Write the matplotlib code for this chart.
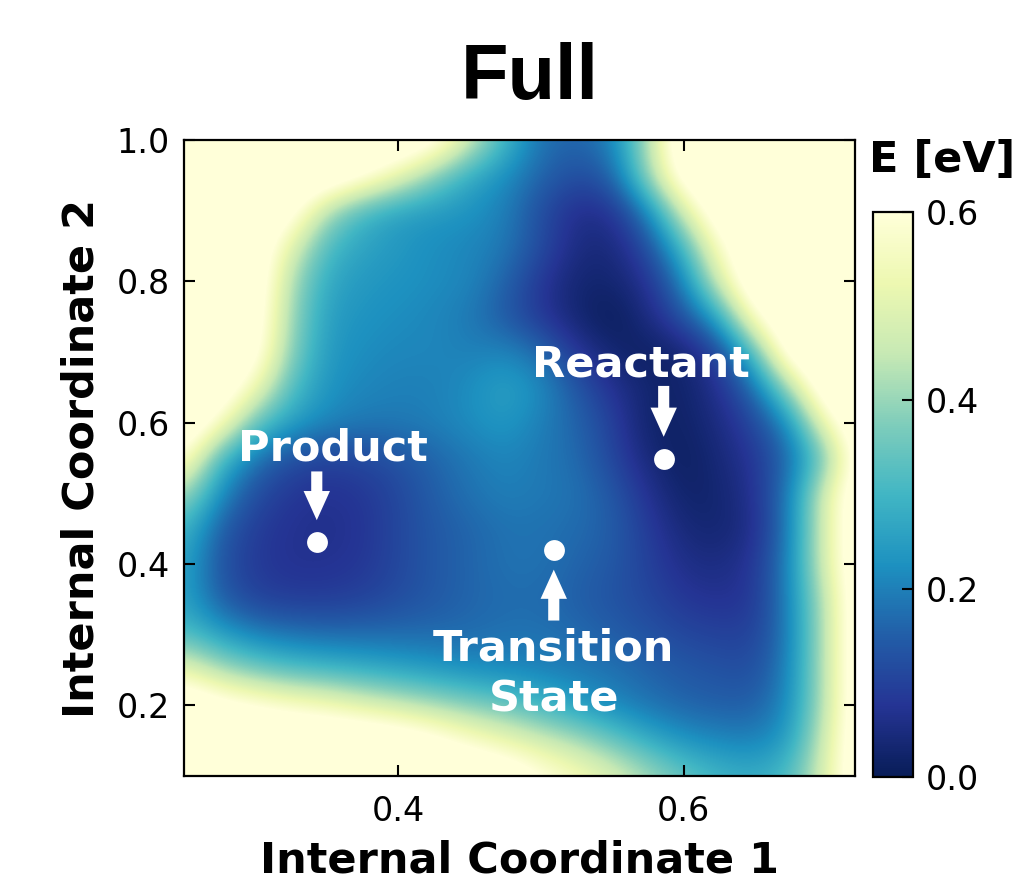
import numpy as np
import matplotlib
matplotlib.use("Agg")
import matplotlib.pyplot as plt

# Grid nodes of the potential energy surface
coord1 = [0.250, 0.275, 0.300, 0.325, 0.350, 0.375, 0.400, 0.425, 0.450, 0.475,
          0.500, 0.525, 0.550, 0.575, 0.600, 0.625, 0.650, 0.675, 0.700, 0.725]
coord2 = [1.00, 0.95, 0.90, 0.85, 0.80, 0.75, 0.70, 0.65, 0.60, 0.55,
          0.50, 0.45, 0.40, 0.35, 0.30, 0.25, 0.20, 0.15, 0.10]

# Energy [eV] on the grid, one row per coord2 value (top row first)
energy = [
    [.72, .72, .72, .72, .72, .72, .72, .66, .48, .30, .18, .16, .20, .42, .72, .72, .72, .72, .72, .72],
    [.72, .72, .72, .72, .72, .64, .52, .38, .27, .22, .16, .12, .15, .40, .68, .72, .72, .72, .72, .72],
    [.72, .72, .72, .66, .42, .30, .25, .24, .23, .20, .12, .06, .07, .20, .48, .70, .72, .72, .72, .72],
    [.72, .72, .70, .50, .31, .26, .24, .22, .21, .19, .12, .05, .04, .12, .30, .58, .72, .72, .72, .72],
    [.72, .72, .70, .42, .27, .24, .23, .22, .21, .16, .08, .03, .03, .07, .20, .48, .72, .72, .72, .72],
    [.72, .72, .68, .40, .25, .23, .22, .21, .19, .14, .08, .03, .00, .05, .13, .26, .60, .72, .72, .72],
    [.72, .72, .66, .38, .24, .22, .21, .21, .20, .21, .17, .08, .03, .01, .03, .10, .32, .70, .72, .72],
    [.72, .70, .54, .32, .23, .21, .20, .20, .22, .26, .22, .14, .07, .03, .02, .07, .17, .42, .72, .72],
    [.72, .58, .34, .25, .21, .19, .19, .20, .22, .24, .20, .16, .10, .02, .02, .05, .11, .22, .55, .72],
    [.61, .30, .18, .12, .10, .11, .13, .16, .19, .21, .19, .17, .11, .04, .01, .04, .08, .17, .36, .70],
    [.42, .22, .12, .08, .07, .08, .11, .15, .18, .20, .19, .18, .14, .07, .02, .03, .07, .20, .50, .72],
    [.30, .15, .09, .07, .065, .075, .11, .14, .16, .18, .18, .17, .15, .09, .04, .03, .06, .20, .50, .72],
    [.27, .13, .085, .07, .07, .08, .11, .14, .16, .18, .18, .16, .14, .10, .06, .05, .08, .21, .50, .72],
    [.26, .15, .10, .09, .09, .10, .12, .14, .16, .17, .17, .15, .13, .11, .08, .07, .08, .21, .45, .72],
    [.32, .25, .20, .18, .17, .17, .17, .17, .17, .18, .18, .17, .15, .13, .11, .10, .10, .20, .45, .72],
    [.52, .42, .36, .32, .30, .28, .26, .24, .22, .21, .20, .19, .18, .16, .14, .13, .12, .21, .45, .72],
    [.72, .66, .62, .58, .55, .50, .46, .42, .38, .35, .30, .25, .21, .18, .16, .15, .15, .22, .45, .72],
    [.72, .72, .72, .72, .72, .72, .70, .65, .58, .52, .47, .42, .35, .28, .23, .21, .20, .25, .48, .72],
    [.72, .72, .72, .72, .72, .72, .72, .72, .72, .70, .62, .56, .50, .42, .35, .30, .28, .32, .50, .72],
]

# Stationary points on the surface
state_names = ["Product", "Reactant", "Transition State"]
state_c1 = [0.343, 0.586, 0.509]
state_c2 = [0.431, 0.549, 0.420]

x_ticks = [0.4, 0.6]
y_ticks = [0.2, 0.4, 0.6, 0.8, 1.0]
cbar_ticks = [0.0, 0.2, 0.4, 0.6]

W, H = 1019, 882
fig = plt.figure(figsize=(W / 100, H / 100), dpi=100)
ax = fig.add_axes([184 / W, 1 - 776 / H, (855 - 184) / W, (776 - 140) / H])
cax = fig.add_axes([873 / W, 1 - 777 / H, 40 / W, (777 - 212) / H])

E = np.array(energy)
c1 = np.array(coord1)
c2 = np.array(coord2)
dx = c1[1] - c1[0]
dy = c2[0] - c2[1]
extent = [c1[0] - dx / 2, c1[-1] + dx / 2, c2[-1] - dy / 2, c2[0] + dy / 2]

cmap = plt.get_cmap("YlGnBu_r").copy()
im = ax.imshow(E, extent=extent, origin="upper", cmap=cmap, vmin=0.0, vmax=0.6,
               interpolation="bicubic", aspect="auto")
ax.set_xlim(0.25, 0.72)
ax.set_ylim(0.1, 1.0)

ax.set_xticks(x_ticks)
ax.set_yticks(y_ticks)
ax.tick_params(direction="in", top=True, right=True, length=8, width=1.5,
               labelsize=24)
ax.tick_params(axis="x", pad=14)
ax.tick_params(axis="y", pad=10)
for sp in ax.spines.values():
    sp.set_linewidth(1.6)

ax.set_xlabel("Internal Coordinate 1", fontsize=31, fontweight="bold", labelpad=8)
ax.set_ylabel("Internal Coordinate 2", fontsize=31, fontweight="bold", labelpad=10)

# Markers for the stationary points
ax.plot(state_c1, state_c2, "o", color="white", ms=15, mec="none", zorder=5)

arrow_kw = dict(facecolor="white", edgecolor="white", linewidth=0,
                width=8, headwidth=19, headlength=21, shrink=0.0)
text_kw = dict(color="white", fontsize=31, fontweight="bold", ha="center",
               va="baseline", zorder=6)

# Product
ax.annotate("", xy=(state_c1[0], 0.462), xytext=(state_c1[0], 0.531), arrowprops=arrow_kw)
ax.text(0.354, 0.546, state_names[0], **text_kw)
# Reactant
ax.annotate("", xy=(state_c1[1], 0.580), xytext=(state_c1[1], 0.652), arrowprops=arrow_kw)
ax.text(0.570, 0.666, state_names[1], **text_kw)
# Transition state
ax.annotate("", xy=(state_c1[2], 0.392), xytext=(state_c1[2], 0.320), arrowprops=arrow_kw)
ts_top, ts_bottom = state_names[2].split(" ")
ax.text(state_c1[2], 0.263, ts_top, **text_kw)
ax.text(state_c1[2], 0.191, ts_bottom, **text_kw)

cb = fig.colorbar(im, cax=cax, ticks=cbar_ticks)
cb.ax.tick_params(direction="in", length=8, width=1.5, labelsize=24, pad=9)
cb.outline.set_linewidth(1.6)
fig.text(942 / W, 1 - 172 / H, "E [eV]", fontsize=31, fontweight="bold",
         ha="center", va="baseline")

fig.text(530 / W, 1 - 99 / H, "Full", fontsize=56, fontweight="bold",
         family="Liberation Sans", ha="center", va="baseline")

fig.savefig("out.png", dpi=100)
